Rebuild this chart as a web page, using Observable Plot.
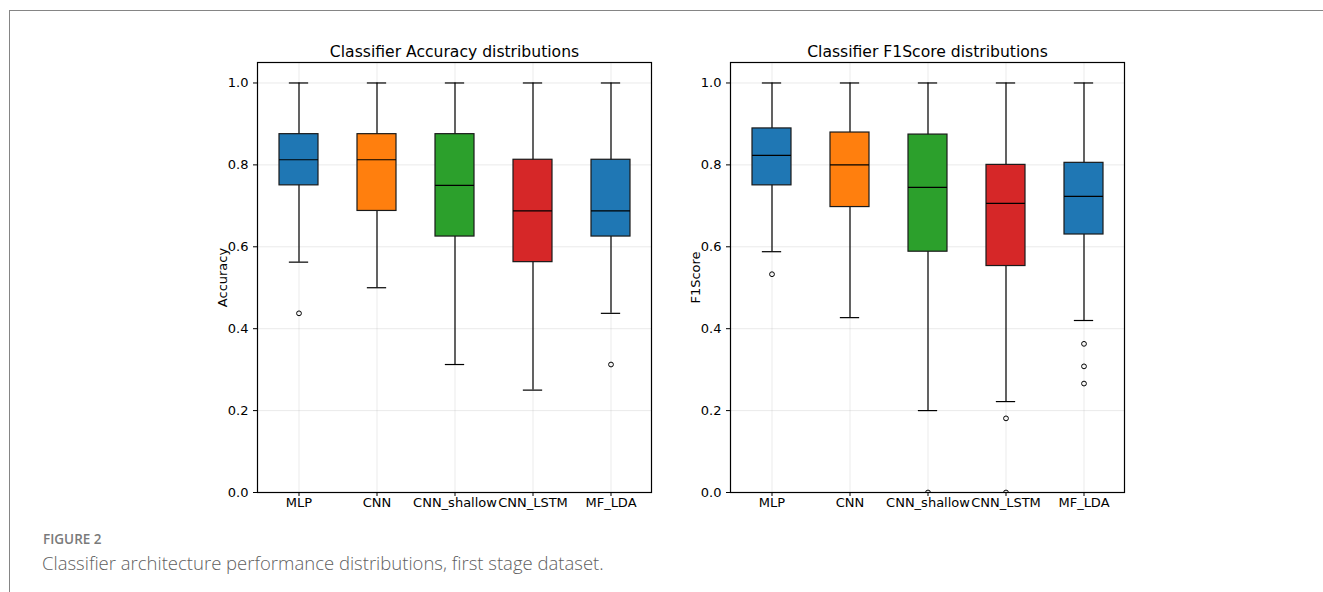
<!DOCTYPE html>
<html>
<head>
<meta charset="utf-8">
<script src="https://cdn.jsdelivr.net/npm/d3@7"></script>
<script src="https://cdn.jsdelivr.net/npm/@observablehq/plot@0.6"></script>
<style>
  html, body { margin: 0; padding: 0; background: white; }
  #wrap { position: relative; width: 1323px; height: 592px; overflow: hidden; background: white; }
  #border { position: absolute; left: 9px; top: 10px; right: -5px; bottom: -5px; border-top: 1.5px solid #858585; border-left: 1.5px solid #858585; }
  .panel { position: absolute; top: 30px; }
  #fig { position: absolute; left: 43px; top: 533px; line-height: 1; font-family: "Open Sans", sans-serif; font-weight: 600; font-size: 13.5px; color: #7a7a7a; white-space: nowrap; }
  #cap { position: absolute; left: 42px; top: 554px; line-height: 1; font-family: "Open Sans", sans-serif; font-weight: 300; font-size: 18.5px; color: #5f5f5f; white-space: nowrap; }
</style>
</head>
<body>
<div id="wrap">
  <div id="border"></div>
  <div id="left" class="panel" style="left:200px"></div>
  <div id="right" class="panel" style="left:673px"></div>
  <div id="fig">FIGURE 2</div>
  <div id="cap">Classifier architecture performance distributions, first stage dataset.</div>
</div>
<script>
const categories = ["MLP", "CNN", "CNN_shallow", "CNN_LSTM", "MF_LDA"];
const boxColors = ["#1f77b4", "#ff7f0e", "#2ca02c", "#d62728", "#1f77b4"];
const yTicks = [0, 0.2, 0.4, 0.6, 0.8, 1.0];

// Accuracy
const accLow  = [0.5625, 0.5, 0.3125, 0.25, 0.4375];
const accQ1   = [0.75, 0.6875, 0.625, 0.5625, 0.625];
const accMed  = [0.8125, 0.8125, 0.75, 0.6875, 0.6875];
const accQ3   = [0.875, 0.875, 0.875, 0.8125, 0.8125];
const accHigh = [1.0, 1.0, 1.0, 1.0, 1.0];
const accOutliers = [["MLP", 0.4375], ["MF_LDA", 0.3125]];

// F1Score
const f1Low  = [0.588, 0.427, 0.2, 0.222, 0.42];
const f1Q1   = [0.75, 0.697, 0.588, 0.553, 0.63];
const f1Med  = [0.823, 0.8, 0.745, 0.706, 0.723];
const f1Q3   = [0.889, 0.879, 0.874, 0.8, 0.805];
const f1High = [1.0, 1.0, 1.0, 1.0, 1.0];
const f1Outliers = [["MLP", 0.533], ["CNN_shallow", 0.0], ["CNN_LSTM", 0.181], ["CNN_LSTM", 0.0],
                    ["MF_LDA", 0.363], ["MF_LDA", 0.308], ["MF_LDA", 0.266]];

function rows(low, q1, med, q3, high) {
  return categories.map((c, i) => ({cat: c, low: low[i], q1: q1[i], med: med[i], q3: q3[i], high: high[i]}));
}

function panel(title, ylabel, data, outliers) {
  const out = outliers.map(([cat, v]) => ({cat, v}));
  const plotW = 394;
  const bw = plotW / 5 * 0.5;
  return Plot.plot({
    width: 470, height: 500,
    marginLeft: 57, marginRight: 19, marginTop: 32, marginBottom: 38,
    style: {fontFamily: "DejaVu Sans", fontSize: "13px", color: "black", background: "white", overflow: "visible"},
    x: {type: "band", domain: categories, paddingInner: 0.5, paddingOuter: 0.25, label: null},
    y: {domain: [0, 1.05], label: null},
    color: {domain: categories, range: boxColors},
    marks: [
      Plot.gridY(yTicks, {stroke: "#b0b0b0", strokeOpacity: 0.25, strokeWidth: 1}),
      Plot.gridX({stroke: "#b0b0b0", strokeOpacity: 0.25, strokeWidth: 1}),
      Plot.ruleX(data, {x: "cat", y1: "low", y2: "high", stroke: "black", strokeWidth: 1.2}),
      Plot.tickY(data, {x: "cat", y: "low", stroke: "black", strokeWidth: 1.2, insetLeft: bw / 4, insetRight: bw / 4}),
      Plot.tickY(data, {x: "cat", y: "high", stroke: "black", strokeWidth: 1.2, insetLeft: bw / 4, insetRight: bw / 4}),
      Plot.barY(data, {x: "cat", y1: "q1", y2: "q3", fill: "cat", stroke: "#1a1a1a", strokeWidth: 1.2}),
      Plot.tickY(data, {x: "cat", y: "med", stroke: "black", strokeWidth: 1.2}),
      Plot.dot(out, {x: "cat", y: "v", r: 2.4, stroke: "black", strokeWidth: 1, fill: "none", clip: true}),
      Plot.frame({stroke: "black", strokeWidth: 1.2}),
      Plot.axisX({tickSize: 4, tickPadding: 1.5, fontSize: 13, label: null}),
      Plot.axisY({ticks: yTicks, tickFormat: ".1f", tickSize: 4, tickPadding: 5, fontSize: 13,
                  label: ylabel, labelAnchor: "center", labelArrow: "none", labelOffset: 40}),
      Plot.text([title], {frameAnchor: "top", dy: -6, lineAnchor: "bottom", fontSize: 15.6, fill: "black"})
    ]
  });
}

document.getElementById("left").append(
  panel("Classifier Accuracy distributions", "Accuracy", rows(accLow, accQ1, accMed, accQ3, accHigh), accOutliers));
document.getElementById("right").append(
  panel("Classifier F1Score distributions", "F1Score", rows(f1Low, f1Q1, f1Med, f1Q3, f1High), f1Outliers));
</script>
</body>
</html>
